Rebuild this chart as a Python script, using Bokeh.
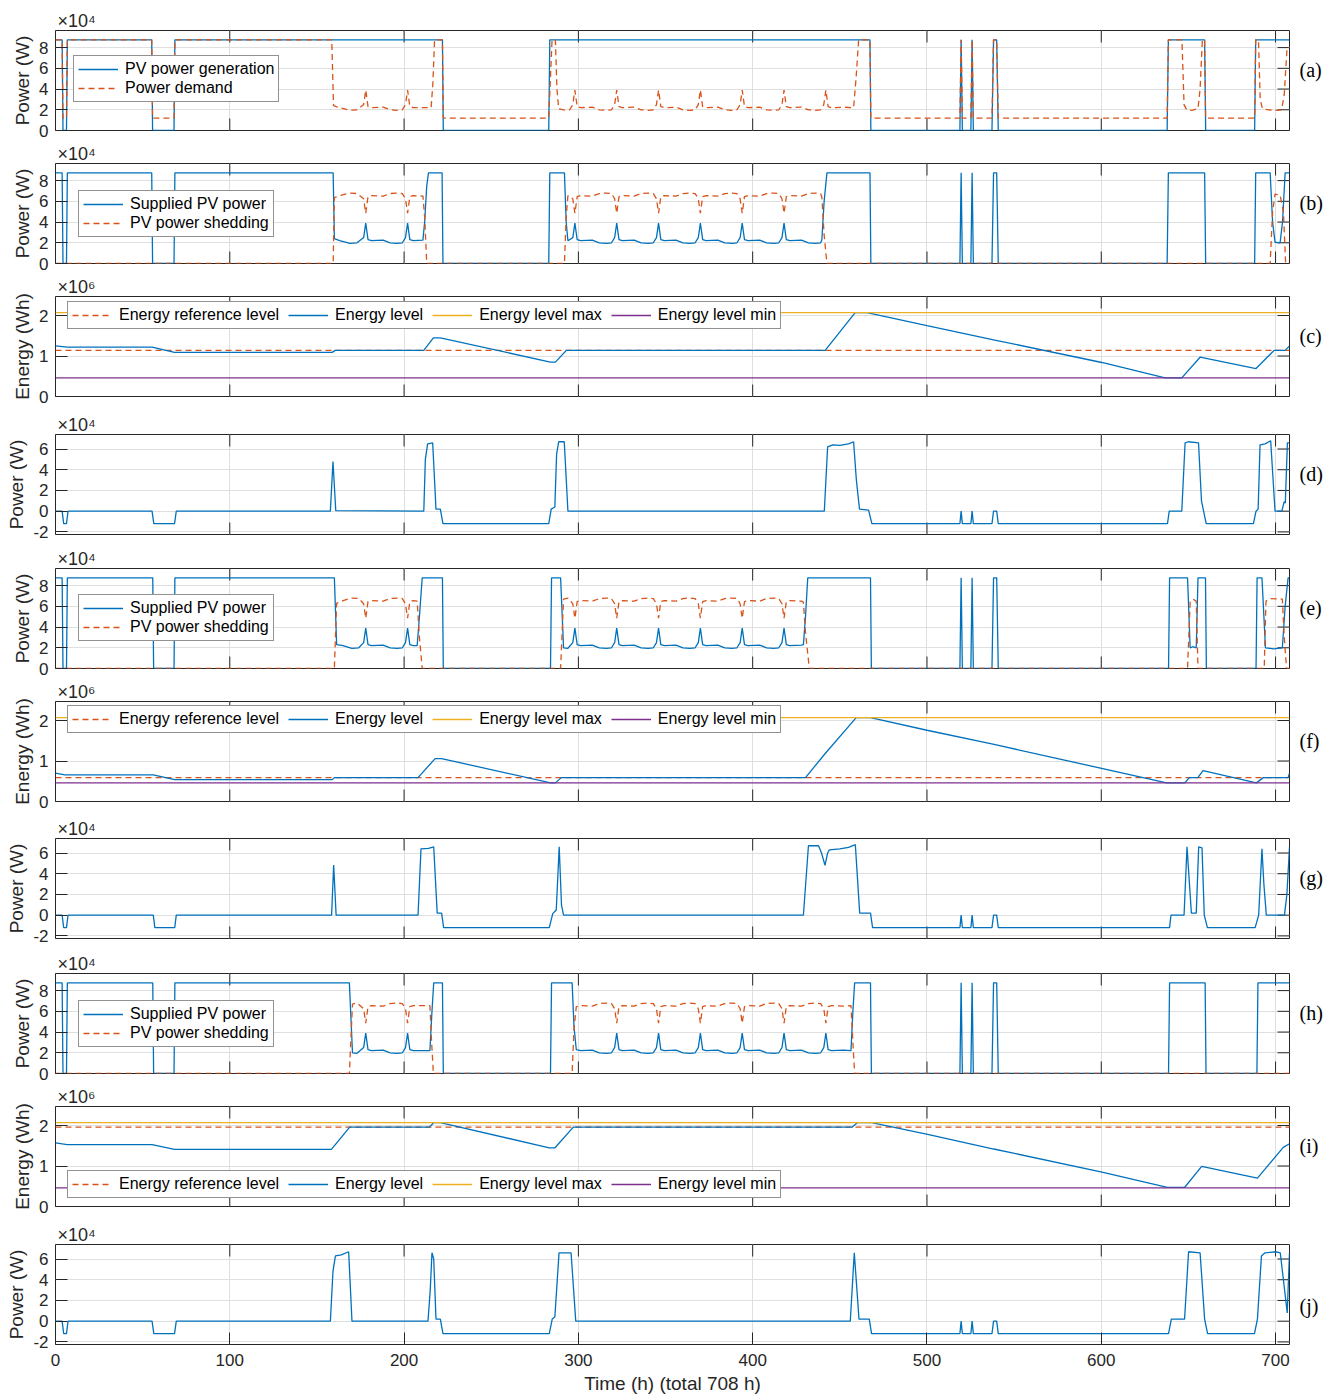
import math
from bokeh.plotting import figure
from bokeh.layouts import column
from bokeh.models import Range1d, FixedTicker, LinearAxis, Grid, Legend, LegendItem, Title
from bokeh.embed import file_html
from bokeh.resources import INLINE

# ---------------- axes / labels ----------------
X_MAX = 708
X_TICKS = [0, 100, 200, 300, 400, 500, 600, 700]
POWER_TICKS = [0, 2, 4, 6, 8]
ENERGY_TICKS = [0, 1, 2]
BATT_TICKS = [-2, 0, 2, 4, 6]
POWER_RANGE = (0, 9.65)      # x10^4 W
ENERGY_RANGE = (0, 2.47)     # x10^6 Wh
BATT_RANGE = (-2.25, 7.4)    # x10^4 W
LETTERS = ["(a)", "(b)", "(c)", "(d)", "(e)", "(f)", "(g)", "(h)", "(i)", "(j)"]
X_LABEL = "Time (h) (total 708 h)"

# ---------------- data (time h, value) ----------------
PV_GEN = [(0, 8.75), (3.8, 8.75), (4.3, 0), (6.3, 0), (6.8, 8.75), (55.2, 8.75), (55.7, 0), (68.0, 0),
          (68.5, 8.75), (222.0, 8.75), (222.5, 0), (283.0, 0), (283.6, 8.75), (467.3, 8.75), (467.8, 0),
          (518.9, 0), (519.6, 8.75), (520.3, 0), (525.2, 0), (525.9, 8.75), (526.6, 0), (537.3, 0),
          (538.2, 8.75), (540.0, 8.75), (540.9, 0), (637.8, 0), (638.5, 8.75), (659.3, 8.75), (659.9, 0),
          (688.0, 0), (688.6, 8.75), (708.0, 8.75)]

POWER_DEMAND = [(0, 8.75), (3.8, 8.75), (4.3, 1.2), (6.3, 1.2), (6.8, 8.75), (55.2, 8.75), (55.7, 1.2),
                (68.0, 1.2), (68.5, 8.75), (158.5, 8.75), (159.5, 2.4), (163.0, 2.2), (169.0, 1.95),
                (173.0, 2.0), (176.8, 2.5), (178.0, 3.9), (179.3, 2.3), (181.3, 2.2), (188.0, 2.25),
                (192.0, 2.0), (196.0, 1.95), (199.0, 2.0), (200.8, 2.5), (202.0, 3.9), (203.3, 2.3),
                (205.3, 2.2), (215.5, 2.2), (216.5, 4.5), (217.5, 8.75), (222.0, 8.75), (222.5, 1.2),
                (283.0, 1.2), (284.9, 8.75), (286.8, 8.75), (287.7, 4.0), (288.7, 2.1), (292.5, 1.95),
                (295.0, 2.0), (296.8, 2.5), (298.0, 3.9), (299.3, 2.3), (301.3, 2.2), (308.0, 2.25),
                (312.0, 2.0), (316.0, 1.95), (319.0, 2.0), (320.8, 2.5), (322.0, 3.9), (323.3, 2.3),
                (325.3, 2.2), (332.0, 2.25), (336.0, 2.0), (340.0, 1.95), (343.0, 2.0), (344.8, 2.5),
                (346.0, 3.9), (347.3, 2.3), (349.3, 2.2), (356.0, 2.25), (360.0, 2.0), (364.0, 1.95),
                (367.0, 2.0), (368.8, 2.5), (370.0, 3.9), (371.3, 2.3), (373.3, 2.2), (380.0, 2.25),
                (384.0, 2.0), (388.0, 1.95), (391.0, 2.0), (392.8, 2.5), (394.0, 3.9), (395.3, 2.3),
                (397.3, 2.2), (404.0, 2.25), (408.0, 2.0), (412.0, 1.95), (415.0, 2.0), (416.8, 2.5),
                (418.0, 3.9), (419.3, 2.3), (421.3, 2.2), (428.0, 2.25), (432.0, 2.0), (436.0, 1.95),
                (439.0, 2.0), (440.8, 2.5), (442.0, 3.9), (443.3, 2.3), (445.3, 2.2), (452.0, 2.25),
                (457.9, 2.2), (459.3, 5.0), (460.8, 8.75), (467.3, 8.75), (467.8, 1.2), (518.9, 1.2),
                (519.6, 8.75), (520.3, 1.2), (525.2, 1.2), (525.9, 8.75), (526.6, 1.2), (537.3, 1.2),
                (538.2, 8.75), (540.0, 8.75), (540.9, 1.2), (637.8, 1.2), (638.5, 8.75), (646.3, 8.75),
                (647.5, 2.5), (649.0, 2.0), (652.0, 1.95), (655.5, 2.1), (656.7, 4.0), (658.0, 8.75),
                (659.3, 8.75), (659.9, 1.2), (688.0, 1.2), (688.6, 8.75), (690.2, 8.75), (691.2, 3.0),
                (692.5, 2.1), (696.0, 2.0), (700.0, 1.95), (703.5, 2.0), (705.0, 3.5), (706.6, 8.0),
                (708.0, 8.0)]

# scenario 1: (b) (c) (d)
SUPPLIED_1 = [(0, 8.75), (3.8, 8.75), (4.3, 0), (6.3, 0), (6.8, 8.75), (55.2, 8.75), (55.7, 0), (68.0, 0),
              (68.5, 8.75), (159.3, 8.75), (160.0, 2.4), (163.0, 2.2), (169.0, 1.95), (173.0, 2.0),
              (176.8, 2.5), (178.0, 3.9), (179.3, 2.3), (181.3, 2.2), (188.0, 2.25), (192.0, 2.0),
              (196.0, 1.95), (199.0, 2.0), (200.8, 2.5), (202.0, 3.9), (203.3, 2.3), (205.3, 2.2),
              (210.8, 2.25), (211.8, 4.0), (213.0, 7.5), (214.0, 8.75), (221.8, 8.75), (222.3, 0),
              (283.0, 0), (283.6, 8.75), (292.0, 8.75), (293.0, 4.0), (294.0, 2.2), (296.8, 2.5),
              (298.0, 3.9), (299.3, 2.3), (301.3, 2.2), (308.0, 2.25), (312.0, 2.0), (316.0, 1.95),
              (319.0, 2.0), (320.8, 2.5), (322.0, 3.9), (323.3, 2.3), (325.3, 2.2), (332.0, 2.25),
              (336.0, 2.0), (340.0, 1.95), (343.0, 2.0), (344.8, 2.5), (346.0, 3.9), (347.3, 2.3),
              (349.3, 2.2), (356.0, 2.25), (360.0, 2.0), (364.0, 1.95), (367.0, 2.0), (368.8, 2.5),
              (370.0, 3.9), (371.3, 2.3), (373.3, 2.2), (380.0, 2.25), (384.0, 2.0), (388.0, 1.95),
              (391.0, 2.0), (392.8, 2.5), (394.0, 3.9), (395.3, 2.3), (397.3, 2.2), (404.0, 2.25),
              (408.0, 2.0), (412.0, 1.95), (415.0, 2.0), (416.8, 2.5), (418.0, 3.9), (419.3, 2.3),
              (421.3, 2.2), (428.0, 2.25), (432.0, 2.0), (436.0, 1.95), (439.0, 2.0), (439.7, 2.3),
              (441.0, 6.0), (442.6, 8.75), (467.3, 8.75), (467.8, 0), (518.9, 0), (519.6, 8.75),
              (520.3, 0), (525.2, 0), (525.9, 8.75), (526.6, 0), (537.3, 0), (538.2, 8.75), (540.0, 8.75),
              (540.9, 0), (637.8, 0), (638.5, 8.75), (659.3, 8.75), (659.9, 0), (688.0, 0), (688.6, 8.75),
              (696.9, 8.75), (698.3, 4.0), (699.7, 2.05), (702.6, 2.0), (704.0, 4.0), (705.5, 8.75),
              (708.0, 8.75)]
SHEDDING_1 = [(0, 0), (159.3, 0), (160.0, 6.35), (163.0, 6.55), (169.0, 6.8), (173.0, 6.75), (176.8, 6.25),
              (178.0, 4.85), (179.3, 6.45), (181.3, 6.55), (188.0, 6.5), (192.0, 6.75), (196.0, 6.8),
              (199.0, 6.75), (200.8, 6.25), (202.0, 4.85), (203.3, 6.45), (205.3, 6.55), (210.8, 6.5),
              (211.8, 4.5), (213.0, 0), (292.0, 0), (293.0, 4.5), (294.0, 6.55), (296.8, 6.25),
              (298.0, 4.85), (299.3, 6.45), (301.3, 6.55), (308.0, 6.5), (312.0, 6.75), (316.0, 6.8),
              (319.0, 6.75), (320.8, 6.25), (322.0, 4.85), (323.3, 6.45), (325.3, 6.55), (332.0, 6.5),
              (336.0, 6.75), (340.0, 6.8), (343.0, 6.75), (344.8, 6.25), (346.0, 4.85), (347.3, 6.45),
              (349.3, 6.55), (356.0, 6.5), (360.0, 6.75), (364.0, 6.8), (367.0, 6.75), (368.8, 6.25),
              (370.0, 4.85), (371.3, 6.45), (373.3, 6.55), (380.0, 6.5), (384.0, 6.75), (388.0, 6.8),
              (391.0, 6.75), (392.8, 6.25), (394.0, 4.85), (395.3, 6.45), (397.3, 6.55), (404.0, 6.5),
              (408.0, 6.75), (412.0, 6.8), (415.0, 6.75), (416.8, 6.25), (418.0, 4.85), (419.3, 6.45),
              (421.3, 6.55), (428.0, 6.5), (432.0, 6.75), (436.0, 6.8), (439.0, 6.75), (439.7, 6.4),
              (441.0, 2.75), (442.6, 0), (696.9, 0), (698.3, 5.0), (699.7, 6.7), (702.6, 6.6),
              (704.5, 5.0), (705.8, 0), (708.0, 0)]
ENERGY_1 = [(0, 1.25), (6.7, 1.22), (55.4, 1.22), (68.3, 1.09), (158.7, 1.09), (160.5, 1.14), (211.3, 1.14),
            (216.8, 1.45), (220.8, 1.45), (283.9, 0.85), (286.8, 0.85), (293.1, 1.14), (441.6, 1.14),
            (458.8, 2.07), (465.6, 2.07), (500.0, 1.75), (538.2, 1.40), (600.3, 0.84), (636.6, 0.46),
            (646.2, 0.46), (656.7, 0.97), (688.8, 0.69), (699.2, 1.14), (705.5, 1.14), (708.0, 1.25)]
BATTERY_1 = [(0, 0), (3.8, 0), (4.7, -1.2), (6.3, -1.2), (7.2, 0), (55.4, 0), (56.4, -1.2), (68.3, -1.2),
             (69.3, 0), (157.7, 0), (159.2, 4.8), (160.8, 0.05), (211.3, 0), (212.2, 5.0), (213.5, 6.5),
             (216.4, 6.6), (218.3, 0.2), (220.8, 0.2), (222.3, -1.2), (283.0, -1.2), (284.4, 0.2),
             (286.5, 0.4), (287.5, 5.5), (288.7, 6.7), (291.9, 6.7), (294.0, 0), (441.1, 0), (443.0, 6.2),
             (446.0, 6.4), (450.0, 6.35), (455.0, 6.5), (457.9, 6.7), (459.5, 3.0), (461.3, 0.2),
             (466.5, 0.1), (468.4, -1.2), (518.9, -1.2), (519.6, 0), (520.3, -1.2), (525.2, -1.2),
             (525.9, 0), (526.6, -1.2), (537.3, -1.2), (538.2, 0), (540.0, 0), (540.9, -1.2), (638.0, -1.2),
             (639.0, 0), (646.2, 0), (648.1, 6.6), (650.0, 6.7), (655.8, 6.6), (657.5, 1.0), (658.6, 0.1),
             (660.2, -1.2), (687.3, -1.2), (688.8, 0), (690.0, 0.2), (691.1, 6.4), (694.0, 6.5),
             (697.2, 6.8), (699.7, 0), (703.6, 0), (704.9, 0.9), (705.6, 0.8), (706.8, 6.6), (708.0, 6.6)]

# scenario 2: (e) (f) (g)
SUPPLIED_2 = [(0, 8.75), (3.8, 8.75), (4.3, 0), (6.3, 0), (6.8, 8.75), (55.8, 8.75), (56.3, 0), (68.0, 0),
              (68.5, 8.75), (160.0, 8.75), (161.3, 2.3), (165.0, 2.2), (170.0, 1.95), (174.0, 2.0),
              (176.8, 2.5), (178.0, 3.9), (179.3, 2.3), (181.3, 2.2), (188.0, 2.25), (192.0, 2.0),
              (196.0, 1.95), (199.0, 2.0), (200.8, 2.5), (202.0, 3.9), (203.3, 2.3), (205.3, 2.2),
              (207.5, 2.2), (208.8, 5.0), (210.4, 8.75), (222.0, 8.75), (222.5, 0), (284.0, 0),
              (284.6, 8.75), (289.8, 8.75), (291.5, 2.0), (294.0, 1.95), (296.8, 2.5), (298.0, 3.9),
              (299.3, 2.3), (301.3, 2.2), (308.0, 2.25), (312.0, 2.0), (316.0, 1.95), (319.0, 2.0),
              (320.8, 2.5), (322.0, 3.9), (323.3, 2.3), (325.3, 2.2), (332.0, 2.25), (336.0, 2.0),
              (340.0, 1.95), (343.0, 2.0), (344.8, 2.5), (346.0, 3.9), (347.3, 2.3), (349.3, 2.2),
              (356.0, 2.25), (360.0, 2.0), (364.0, 1.95), (367.0, 2.0), (368.8, 2.5), (370.0, 3.9),
              (371.3, 2.3), (373.3, 2.2), (380.0, 2.25), (384.0, 2.0), (388.0, 1.95), (391.0, 2.0),
              (392.8, 2.5), (394.0, 3.9), (395.3, 2.3), (397.3, 2.2), (404.0, 2.25), (408.0, 2.0),
              (412.0, 1.95), (415.0, 2.0), (416.8, 2.5), (418.0, 3.9), (419.3, 2.3), (421.3, 2.2),
              (428.0, 2.25), (429.1, 2.3), (430.3, 5.0), (431.6, 8.75), (467.6, 8.75), (468.1, 0),
              (518.9, 0), (519.6, 8.75), (520.3, 0), (525.2, 0), (525.9, 8.75), (526.6, 0), (537.3, 0),
              (538.2, 8.75), (540.0, 8.75), (540.9, 0), (638.6, 0), (639.2, 8.75), (649.5, 8.75),
              (651.0, 2.0), (652.5, 2.1), (654.5, 2.0), (655.5, 8.75), (659.8, 8.75), (660.3, 0),
              (688.8, 0), (689.4, 8.75), (692.2, 8.75), (694.2, 2.0), (699.0, 1.9), (703.9, 2.0),
              (705.5, 6.0), (707.2, 8.75), (708.0, 8.75)]
SHEDDING_2 = [(0, 0), (160.0, 0), (161.3, 6.3), (165.0, 6.55), (170.0, 6.8), (174.0, 6.75), (176.8, 6.25),
              (178.0, 4.85), (179.3, 6.45), (181.3, 6.55), (188.0, 6.5), (192.0, 6.75), (196.0, 6.8),
              (199.0, 6.75), (200.8, 6.25), (202.0, 4.85), (203.3, 6.45), (205.3, 6.55), (207.5, 6.5),
              (208.8, 3.0), (210.4, 0), (289.8, 0), (291.5, 6.7), (294.0, 6.8), (296.8, 6.25),
              (298.0, 4.85), (299.3, 6.45), (301.3, 6.55), (308.0, 6.5), (312.0, 6.75), (316.0, 6.8),
              (319.0, 6.75), (320.8, 6.25), (322.0, 4.85), (323.3, 6.45), (325.3, 6.55), (332.0, 6.5),
              (336.0, 6.75), (340.0, 6.8), (343.0, 6.75), (344.8, 6.25), (346.0, 4.85), (347.3, 6.45),
              (349.3, 6.55), (356.0, 6.5), (360.0, 6.75), (364.0, 6.8), (367.0, 6.75), (368.8, 6.25),
              (370.0, 4.85), (371.3, 6.45), (373.3, 6.55), (380.0, 6.5), (384.0, 6.75), (388.0, 6.8),
              (391.0, 6.75), (392.8, 6.25), (394.0, 4.85), (395.3, 6.45), (397.3, 6.55), (404.0, 6.5),
              (408.0, 6.75), (412.0, 6.8), (415.0, 6.75), (416.8, 6.25), (418.0, 4.85), (419.3, 6.45),
              (421.3, 6.55), (428.0, 6.5), (429.1, 6.4), (430.3, 3.5), (432.5, 0), (649.5, 0),
              (651.0, 6.4), (652.5, 6.7), (654.5, 6.5), (655.5, 0), (693.5, 0), (694.5, 6.5), (697.0, 6.75),
              (703.9, 6.7), (705.0, 3.0), (706.3, 0), (708.0, 0)]
ENERGY_2 = [(0, 0.70), (5.4, 0.66), (56.1, 0.66), (68.4, 0.54), (158.8, 0.54), (160.0, 0.59), (208.0, 0.59),
            (217.8, 1.06), (221.5, 1.06), (284.1, 0.46), (286.8, 0.46), (290.2, 0.59), (430.3, 0.59),
            (441.5, 1.18), (459.4, 2.07), (467.6, 2.07), (500.0, 1.76), (538.5, 1.41), (637.5, 0.46),
            (647.9, 0.46), (650.5, 0.59), (655.4, 0.59), (658.4, 0.76), (689.0, 0.46), (693.0, 0.59),
            (707.2, 0.59), (708.0, 0.70)]
BATTERY_2 = [(0, 0), (3.8, 0), (4.7, -1.2), (6.3, -1.2), (7.2, 0), (56.1, 0), (57.0, -1.2), (68.4, -1.2),
             (69.3, 0), (158.4, 0), (159.6, 4.85), (161.0, 0), (208.0, 0), (209.7, 6.4), (214.0, 6.45),
             (217.0, 6.6), (219.0, 0.2), (221.5, 0.2), (222.7, -1.2), (283.3, -1.2), (285.3, 0.15),
             (287.3, 0.5), (289.0, 6.6), (290.3, 1.0), (291.5, 0), (429.1, 0), (432.0, 6.7), (437.8, 6.7),
             (439.5, 6.0), (441.5, 4.8), (443.0, 6.0), (444.0, 6.3), (450.0, 6.4), (455.0, 6.55),
             (458.9, 6.8), (461.4, 0.2), (467.6, 0.2), (468.8, -1.2), (518.9, -1.2), (519.6, 0),
             (520.3, -1.2), (525.2, -1.2), (525.9, 0), (526.6, -1.2), (537.3, -1.2), (538.2, 0), (540.0, 0),
             (540.9, -1.2), (639.2, -1.2), (640.0, 0), (647.5, 0), (649.2, 6.6), (651.7, 0.2), (654.5, 0.2),
             (655.9, 6.6), (657.8, 6.5), (659.1, 0), (660.9, -1.2), (688.3, -1.2), (690.3, 0), (692.2, 6.4),
             (693.3, 3.0), (694.7, 0), (705.1, 0), (706.5, 2.0), (708.0, 6.6)]

# scenario 3: (h) (i) (j)
SUPPLIED_3 = [(0, 8.75), (3.8, 8.75), (4.3, 0), (6.3, 0), (6.8, 8.75), (55.8, 8.75), (56.3, 0), (68.0, 0),
              (68.5, 8.75), (168.6, 8.75), (170.4, 2.0), (173.0, 1.95), (176.8, 2.5), (178.0, 3.9),
              (179.3, 2.3), (181.3, 2.2), (188.0, 2.25), (192.0, 2.0), (196.0, 1.95), (199.0, 2.0),
              (200.8, 2.5), (202.0, 3.9), (203.3, 2.3), (205.3, 2.2), (214.8, 2.2), (216.0, 6.0),
              (217.0, 8.75), (222.0, 8.75), (222.5, 0), (284.0, 0), (284.6, 8.75), (296.4, 8.75),
              (297.5, 4.5), (298.8, 2.3), (301.3, 2.2), (308.0, 2.25), (312.0, 2.0), (316.0, 1.95),
              (319.0, 2.0), (320.8, 2.5), (322.0, 3.9), (323.3, 2.3), (325.3, 2.2), (332.0, 2.25),
              (336.0, 2.0), (340.0, 1.95), (343.0, 2.0), (344.8, 2.5), (346.0, 3.9), (347.3, 2.3),
              (349.3, 2.2), (356.0, 2.25), (360.0, 2.0), (364.0, 1.95), (367.0, 2.0), (368.8, 2.5),
              (370.0, 3.9), (371.3, 2.3), (373.3, 2.2), (380.0, 2.25), (384.0, 2.0), (388.0, 1.95),
              (391.0, 2.0), (392.8, 2.5), (394.0, 3.9), (395.3, 2.3), (397.3, 2.2), (404.0, 2.25),
              (408.0, 2.0), (412.0, 1.95), (415.0, 2.0), (416.8, 2.5), (418.0, 3.9), (419.3, 2.3),
              (421.3, 2.2), (428.0, 2.25), (432.0, 2.0), (436.0, 1.95), (439.0, 2.0), (440.8, 2.5),
              (442.0, 3.9), (443.3, 2.3), (445.3, 2.2), (452.0, 2.25), (456.4, 2.2), (457.5, 6.0),
              (458.5, 8.75), (467.6, 8.75), (468.1, 0), (518.9, 0), (519.6, 8.75), (520.3, 0), (525.2, 0),
              (525.9, 8.75), (526.6, 0), (537.3, 0), (538.2, 8.75), (540.0, 8.75), (540.9, 0), (638.6, 0),
              (639.2, 8.75), (659.6, 8.75), (660.1, 0), (689.3, 0), (689.9, 8.75), (708.0, 8.75)]
SHEDDING_3 = [(0, 0), (168.6, 0), (170.4, 6.7), (173.0, 6.8), (176.8, 6.25), (178.0, 4.85), (179.3, 6.45),
              (181.3, 6.55), (188.0, 6.5), (192.0, 6.75), (196.0, 6.8), (199.0, 6.75), (200.8, 6.25),
              (202.0, 4.85), (203.3, 6.45), (205.3, 6.55), (214.8, 6.55), (215.8, 3.0), (216.8, 0),
              (296.4, 0), (297.5, 4.3), (298.8, 6.45), (301.3, 6.55), (308.0, 6.5), (312.0, 6.75),
              (316.0, 6.8), (319.0, 6.75), (320.8, 6.25), (322.0, 4.85), (323.3, 6.45), (325.3, 6.55),
              (332.0, 6.5), (336.0, 6.75), (340.0, 6.8), (343.0, 6.75), (344.8, 6.25), (346.0, 4.85),
              (347.3, 6.45), (349.3, 6.55), (356.0, 6.5), (360.0, 6.75), (364.0, 6.8), (367.0, 6.75),
              (368.8, 6.25), (370.0, 4.85), (371.3, 6.45), (373.3, 6.55), (380.0, 6.5), (384.0, 6.75),
              (388.0, 6.8), (391.0, 6.75), (392.8, 6.25), (394.0, 4.85), (395.3, 6.45), (397.3, 6.55),
              (404.0, 6.5), (408.0, 6.75), (412.0, 6.8), (415.0, 6.75), (416.8, 6.25), (418.0, 4.85),
              (419.3, 6.45), (421.3, 6.55), (428.0, 6.5), (432.0, 6.75), (436.0, 6.8), (439.0, 6.75),
              (440.8, 6.25), (442.0, 4.85), (443.3, 6.45), (445.3, 6.55), (452.0, 6.5), (456.4, 6.55),
              (457.5, 3.0), (458.5, 0), (708.0, 0)]
ENERGY_3 = [(0, 1.57), (6.7, 1.53), (55.4, 1.53), (68.3, 1.41), (158.3, 1.41), (168.8, 1.96), (214.5, 1.96),
            (217.0, 2.07), (220.8, 2.07), (283.3, 1.45), (286.6, 1.45), (297.1, 1.96), (457.0, 1.96),
            (460.0, 2.07), (468.2, 2.07), (500.4, 1.78), (538.3, 1.42), (600.4, 0.85), (637.9, 0.47),
            (647.8, 0.47), (657.6, 0.99), (689.6, 0.70), (704.4, 1.46), (708.0, 1.55)]
BATTERY_3 = [(0, 0), (3.8, 0), (4.7, -1.2), (6.3, -1.2), (7.2, 0), (55.4, 0), (56.4, -1.2), (68.3, -1.2),
             (69.3, 0), (157.7, 0), (159.2, 4.8), (160.6, 6.3), (164.0, 6.4), (168.2, 6.7), (170.1, 0),
             (213.7, 0), (215.0, 3.0), (216.0, 6.6), (217.0, 6.0), (218.3, 0.2), (220.8, 0.2), (222.3, -1.2),
             (283.3, -1.2), (285.0, 0.2), (286.5, 0.4), (288.9, 6.6), (295.8, 6.6), (298.5, 0), (456.0, 0),
             (458.3, 6.6), (461.0, 0.2), (466.9, 0.2), (468.2, -1.2), (518.9, -1.2), (519.6, 0),
             (520.3, -1.2), (525.2, -1.2), (525.9, 0), (526.6, -1.2), (537.3, -1.2), (538.2, 0), (540.0, 0),
             (540.9, -1.2), (638.6, -1.2), (640.2, 0.2), (647.8, 0.2), (650.1, 6.7), (656.7, 6.6),
             (659.3, 0.2), (661.0, -1.2), (687.9, -1.2), (689.6, 0.2), (691.9, 6.3), (694.0, 6.6),
             (700.0, 6.7), (702.7, 6.6), (704.5, 4.0), (706.7, 0.8), (708.0, 6.6)]

ENERGY_REF = [1.14, 0.59, 1.96]
ENERGY_MAX = 2.07
ENERGY_MIN = 0.46

# ---------------- style / layout ----------------
BLUE, ORANGE, YELLOW, PURPLE = "#0072BD", "#D95319", "#EDB120", "#7E2F8E"
INK = "#262626"
FONT = "Liberation Sans"
SERIF = "Liberation Serif"
W = 1330
LEFT = 55
FRAME_W = 1234
RIGHT = W - LEFT - FRAME_W
FRAME_H = 100
HEIGHTS = [141, 133, 138, 134, 133, 137, 135, 133, 138, 174]
TOPS = [30, 22, 22, 22, 22, 22, 22, 22, 22, 22]
LW = 1.3
DASH = "6 4"
TICK_LEN = 12


def xy(pairs):
    return [a for a, _ in pairs], [b for _, b in pairs]


def base_fig(k, yr, yticks, ylabel, expo, last=False):
    h = HEIGHTS[k]
    top = TOPS[k]
    bottom = h - top - FRAME_H
    p = figure(width=W, height=h, x_range=Range1d(0, X_MAX), y_range=Range1d(*yr),
               x_axis_type=None, y_axis_type=None, output_backend="svg", toolbar_location=None,
               min_border_left=LEFT, min_border_right=RIGHT, min_border_top=top,
               min_border_bottom=bottom)
    p.outline_line_color = INK
    p.outline_line_width = 1
    p.background_fill_color = "white"
    p.border_fill_color = "white"
    xt = FixedTicker(ticks=X_TICKS, minor_ticks=[])
    yt = FixedTicker(ticks=yticks, minor_ticks=[])
    p.add_layout(Grid(dimension=0, ticker=xt, grid_line_color="#dfdfdf", grid_line_width=1))
    p.add_layout(Grid(dimension=1, ticker=yt, grid_line_color="#dfdfdf", grid_line_width=1))

    # left axis with tick labels and y label
    ax = LinearAxis(ticker=yt)
    ax.axis_line_color = None
    ax.major_tick_in = TICK_LEN
    ax.major_tick_out = 0
    ax.minor_tick_in = 0
    ax.minor_tick_out = 0
    ax.major_tick_line_color = INK
    ax.major_label_text_font = FONT
    ax.major_label_text_color = INK
    ax.major_label_text_font_size = "17px"
    ax.major_label_standoff = 7
    ax.major_label_overrides = {t: str(t) for t in yticks}
    ax.axis_label = ylabel
    ax.axis_label_text_font = FONT
    ax.axis_label_text_font_size = "19px"
    ax.axis_label_text_font_style = "normal"
    ax.axis_label_text_color = INK
    ax.axis_label_standoff = 3
    p.add_layout(ax, "left")

    # right axis only carries the panel letter (an empty line shifts it off centre)
    rax = LinearAxis(ticker=FixedTicker(ticks=[], minor_ticks=[]))
    rax.axis_line_color = None
    rax.major_tick_in = 0
    rax.major_tick_out = 0
    rax.major_label_standoff = 0
    rax.axis_label = ("\u00a0\n" + LETTERS[k]) if last else (LETTERS[k] + "\n\u00a0")
    rax.axis_label_text_font = SERIF
    rax.axis_label_text_font_size = "20px"
    rax.axis_label_text_font_style = "normal"
    rax.axis_label_text_color = "black"
    rax.axis_label_text_line_height = 1.0
    rax.axis_label_standoff = 10
    try:
        rax.axis_label_orientation = "horizontal"
    except Exception:
        pass
    p.add_layout(rax, "right")

    # multiplier above the frame
    p.add_layout(Title(text="×10" + expo, align="left", offset=2, standoff=0, text_font=FONT,
                       text_font_size="18px", text_font_style="normal", text_color=INK), "above")

    # inward tick marks on the other sides
    p.ray(x=X_TICKS, y=[yr[1]] * len(X_TICKS), length=TICK_LEN, length_units="screen",
          angle=-math.pi / 2, line_color=INK, line_width=1)
    p.ray(x=[X_MAX] * len(yticks), y=yticks, length=TICK_LEN, length_units="screen",
          angle=math.pi, line_color=INK, line_width=1)
    if last:
        bx = LinearAxis(ticker=xt)
        bx.axis_line_color = None
        bx.major_tick_in = TICK_LEN
        bx.major_tick_out = 0
        bx.minor_tick_in = 0
        bx.minor_tick_out = 0
        bx.major_tick_line_color = INK
        bx.major_label_text_font = FONT
        bx.major_label_text_color = INK
        bx.major_label_text_font_size = "17px"
        bx.major_label_standoff = 9
        bx.axis_label = X_LABEL
        bx.axis_label_text_font = FONT
        bx.axis_label_text_font_size = "19px"
        bx.axis_label_text_font_style = "normal"
        bx.axis_label_text_color = INK
        bx.axis_label_standoff = 4
        p.add_layout(bx, "below")
    else:
        p.ray(x=X_TICKS, y=[yr[0]] * len(X_TICKS), length=TICK_LEN, length_units="screen",
              angle=math.pi / 2, line_color=INK, line_width=1)
    return p


def add_legend(p, items, loc, horizontal=False):
    lg = Legend(items=items, location=loc, orientation="horizontal" if horizontal else "vertical")
    lg.label_text_font = FONT
    lg.label_text_font_size = "16px"
    lg.label_text_color = "black"
    lg.glyph_width = 40
    lg.label_standoff = 7
    lg.margin = 0
    lg.border_line_color = INK
    lg.border_line_width = 1
    lg.background_fill_color = "white"
    lg.background_fill_alpha = 1
    if horizontal:
        lg.glyph_height = 16
        lg.label_height = 16
        lg.padding = 4
        lg.spacing = 9
    else:
        lg.glyph_height = 18
        lg.label_height = 18
        lg.padding = 4
        lg.spacing = 1
    p.add_layout(lg)


def power_panel(k, blue, orange, blue_name, orange_name, loc):
    p = base_fig(k, POWER_RANGE, POWER_TICKS, "Power (W)", "⁴")
    bx, by = xy(blue)
    ox, oy = xy(orange)
    rb = p.line(bx, by, line_color=BLUE, line_width=LW)
    ro = p.line(ox, oy, line_color=ORANGE, line_width=LW, line_dash=DASH)
    add_legend(p, [LegendItem(label=blue_name, renderers=[rb]),
                   LegendItem(label=orange_name, renderers=[ro])], loc)
    return p


def energy_panel(k, energy, ref, loc):
    p = base_fig(k, ENERGY_RANGE, ENERGY_TICKS, "Energy (Wh)", "⁶")
    ex, ey = xy(energy)
    ends = [0, X_MAX]
    r_ref = p.line(ends, [ref, ref], line_color=ORANGE, line_width=LW, line_dash=DASH)
    r_e = p.line(ex, ey, line_color=BLUE, line_width=LW)
    r_max = p.line(ends, [ENERGY_MAX, ENERGY_MAX], line_color=YELLOW, line_width=LW)
    r_min = p.line(ends, [ENERGY_MIN, ENERGY_MIN], line_color=PURPLE, line_width=LW)
    add_legend(p, [LegendItem(label="Energy reference level", renderers=[r_ref]),
                   LegendItem(label="Energy level", renderers=[r_e]),
                   LegendItem(label="Energy level max", renderers=[r_max]),
                   LegendItem(label="Energy level min", renderers=[r_min])], loc, horizontal=True)
    return p


def battery_panel(k, series, last=False):
    p = base_fig(k, BATT_RANGE, BATT_TICKS, "Power (W)", "⁴", last=last)
    sx, sy = xy(series)
    p.line(sx, sy, line_color=BLUE, line_width=LW)
    return p


figs = [
    power_panel(0, PV_GEN, POWER_DEMAND, "PV power generation", "Power demand", (18, 28)),
    power_panel(1, SUPPLIED_1, SHEDDING_1, "Supplied PV power", "PV power shedding", (23, 26)),
    energy_panel(2, ENERGY_1, ENERGY_REF[0], (12, 67)),
    battery_panel(3, BATTERY_1),
    power_panel(4, SUPPLIED_2, SHEDDING_2, "Supplied PV power", "PV power shedding", (23, 27)),
    energy_panel(5, ENERGY_2, ENERGY_REF[1], (12, 68)),
    battery_panel(6, BATTERY_2),
    power_panel(7, SUPPLIED_3, SHEDDING_3, "Supplied PV power", "PV power shedding", (23, 26)),
    energy_panel(8, ENERGY_3, ENERGY_REF[2], (12, 8)),
    battery_panel(9, BATTERY_3, last=True),
]

layout = column(*figs, spacing=0)
open("out.html", "w").write(file_html(layout, INLINE))
